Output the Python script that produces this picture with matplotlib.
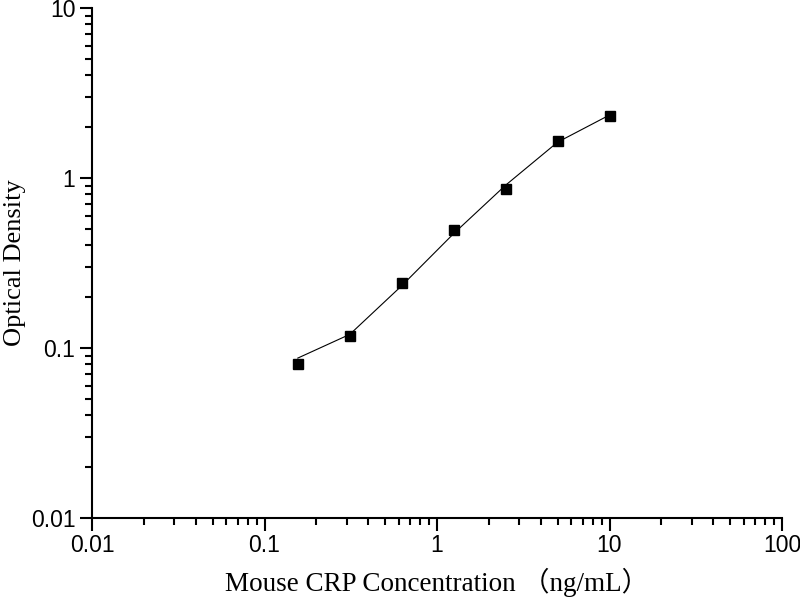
import numpy as np
import matplotlib
matplotlib.use("Agg")
import matplotlib.pyplot as plt
from matplotlib.ticker import LogLocator, FixedLocator, NullFormatter

# Standard concentrations (ng/mL) and measured OD
conc = [0.156, 0.3125, 0.625, 1.25, 2.5, 5, 10]
od = [0.080, 0.118, 0.241, 0.494, 0.862, 1.65, 2.32]

# Fitted curve
fit_conc = [0.156, 0.3125, 0.625, 1.25, 2.5, 5, 10]
fit_od = [0.087, 0.120, 0.232, 0.470, 0.905, 1.62, 2.34]

x_ticks = [0.01, 0.1, 1, 10, 100]
x_labels = ["0.01", "0.1", "1", "10", "100"]
y_ticks = [0.01, 0.1, 1, 10]
y_labels = ["0.01", "0.1", "1", "10"]

fig = plt.figure(figsize=(8, 6), dpi=100)
ax = fig.add_axes([0.115, 0.137, 0.8625, 0.85])

ax.plot(fit_conc, fit_od, color="black", lw=0.8)
ax.plot(conc, od, "s", color="black", ms=7)

ax.set_xscale("log")
ax.set_yscale("log")
ax.set_xlim(0.01, 100)
ax.set_ylim(0.01, 10)

ax.xaxis.set_major_locator(FixedLocator(x_ticks))
ax.yaxis.set_major_locator(FixedLocator(y_ticks))
ax.xaxis.set_minor_locator(LogLocator(base=10, subs=np.arange(2, 10), numticks=20))
ax.yaxis.set_minor_locator(LogLocator(base=10, subs=np.arange(2, 10), numticks=20))
ax.xaxis.set_minor_formatter(NullFormatter())
ax.yaxis.set_minor_formatter(NullFormatter())
ax.set_xticklabels(x_labels, family="Liberation Sans", fontsize=16.5)
ax.set_yticklabels(y_labels, family="Liberation Sans", fontsize=16.5)

ax.tick_params(which="major", direction="out", length=9, width=1.5, pad=3)
ax.tick_params(which="minor", direction="out", length=5, width=1.5)

for s in ["top", "right"]:
    ax.spines[s].set_visible(False)
for s in ["left", "bottom"]:
    ax.spines[s].set_linewidth(1.5)

ax.set_xlabel("Mouse CRP Concentration （ng/mL）", family=["Liberation Serif", "Noto Sans CJK SC"],
              fontsize=19.5)
ax.set_ylabel("Optical Density", family="Liberation Serif", fontsize=19)
# place the axis titles where the reference has them
ax.xaxis.set_label_coords(0.5, -0.098)
ax.yaxis.set_label_coords(-0.096, 0.5)

fig.savefig("out.png", dpi=100)
